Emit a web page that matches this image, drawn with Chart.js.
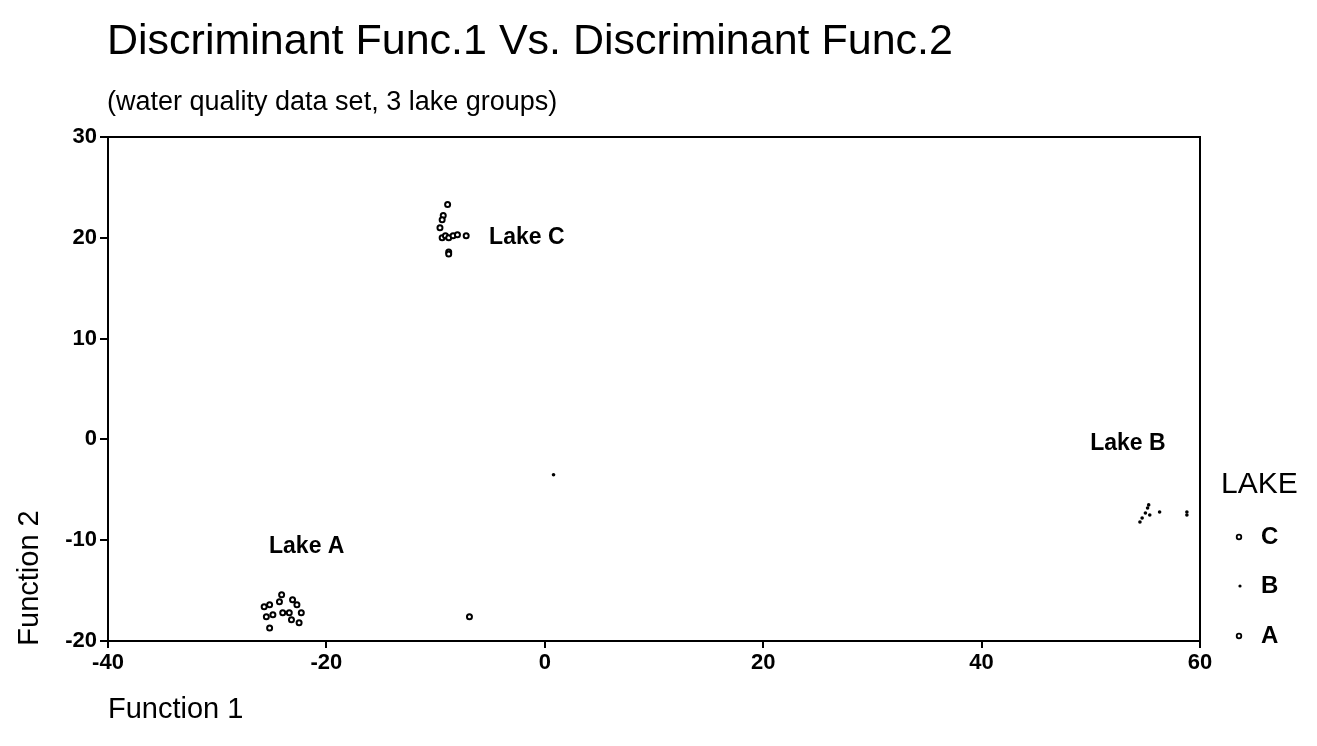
<!DOCTYPE html>
<html>
<head>
<meta charset="utf-8">
<script src="https://cdn.jsdelivr.net/npm/chart.js@4"></script>
<style>
  html, body { margin: 0; padding: 0; background: #fff; }
  #wrap { width: 1317px; height: 746px; position: relative; }
</style>
</head>
<body>
<div id="wrap"><canvas id="c"></canvas></div>
<script>
// discriminant scores
const lakeC_x = [-8.9, -9.3, -9.4, -9.6, -9.4, -9.1, -8.8, -8.4, -8.0, -7.2, -8.8, -8.8]
const lakeC_y = [23.3, 22.2, 21.8, 21.0, 20.0, 20.2, 20.0, 20.2, 20.3, 20.2, 18.6, 18.4]
const lakeB_x = [55.3, 55.2, 55.0, 55.4, 54.7, 54.5, 56.3, 58.8, 58.8, 0.8]
const lakeB_y = [-6.5, -6.8, -7.3, -7.5, -7.8, -8.2, -7.2, -7.2, -7.5, -3.5]
const lakeA_x = [-24.1, -24.3, -25.2, -25.7, -23.1, -22.7, -23.4, -24.0, -24.9, -25.5, -22.3, -22.5, -25.2, -23.2, -6.9]
const lakeA_y = [-15.4, -16.1, -16.4, -16.6, -15.9, -16.4, -17.2, -17.2, -17.4, -17.6, -17.2, -18.2, -18.7, -17.9, -17.6]
const groupLabels = ['Lake C', 'Lake B', 'Lake A']
const labelX = [-5.1, 53.4, -21.8]
const labelY = [20.0, -0.4, -10.6]
const xTicks = [-40, -20, 0, 20, 40, 60]
const yTicks = [-20, -10, 0, 10, 20, 30]

const pts = (xs, ys) => xs.map((x, i) => ({ x, y: ys[i] }))
const FONT = '"Liberation Sans", Arial, Helvetica, sans-serif'

const decor = {
  id: 'decor',
  afterDraw(chart) {
    const { ctx, chartArea: a, scales } = chart
    ctx.save()
    ctx.strokeStyle = '#000'
    ctx.lineWidth = 2
    ctx.strokeRect(a.left, a.top, a.right - a.left, a.bottom - a.top)
    ctx.fillStyle = '#000'
    ctx.textBaseline = 'alphabetic'
    ctx.textAlign = 'left'
    ctx.font = '43px ' + FONT
    ctx.fillText('Discriminant Func.1 Vs. Discriminant Func.2', 107, 54)
    ctx.font = '27px ' + FONT
    ctx.fillText('(water quality data set, 3 lake groups)', 107, 110)
    ctx.font = '29px ' + FONT
    ctx.fillText('Function 1', 108, 718)
    ctx.save()
    ctx.translate(38, 578)
    ctx.rotate(-Math.PI / 2)
    ctx.textAlign = 'center'
    ctx.fillText('Function 2', 0, 0)
    ctx.restore()
    // group labels
    ctx.font = 'bold 23px ' + FONT
    groupLabels.forEach((t, i) => {
      const px = scales.x.getPixelForValue(labelX[i])
      const py = scales.y.getPixelForValue(labelY[i])
      ctx.textAlign = i === 0 ? 'left' : 'center'
      ctx.textBaseline = 'middle'
      ctx.fillText(t, px, py)
    })
    // legend
    ctx.textAlign = 'left'
    ctx.textBaseline = 'middle'
    ctx.font = '30px ' + FONT
    ctx.fillText('LAKE', 1221, 485)
    ctx.font = 'bold 24px ' + FONT
    const ly = [537, 586, 636]
    groupLabels.forEach((t, i) => {
      ctx.beginPath()
      if (i === 1) {
        ctx.arc(1240, ly[i], 1.6, 0, Math.PI * 2)
        ctx.fill()
      } else {
        ctx.lineWidth = 1.8
        ctx.arc(1239, ly[i], 2.3, 0, Math.PI * 2)
        ctx.stroke()
      }
      ctx.fillText(t.slice(-1), 1261, ly[i])
    })
    ctx.restore()
  }
}

new Chart(document.getElementById('c'), {
  type: 'scatter',
  data: {
    datasets: [
      { label: 'C', data: pts(lakeC_x, lakeC_y), pointStyle: 'circle', pointRadius: 2.5, pointBorderWidth: 2, borderColor: '#000', backgroundColor: '#fff' },
      { label: 'B', data: pts(lakeB_x, lakeB_y), pointStyle: 'circle', pointRadius: 1.8, pointBorderWidth: 0, borderColor: '#000', backgroundColor: '#000' },
      { label: 'A', data: pts(lakeA_x, lakeA_y), pointStyle: 'circle', pointRadius: 2.5, pointBorderWidth: 2, borderColor: '#000', backgroundColor: '#fff' }
    ]
  },
  options: {
    responsive: true,
    maintainAspectRatio: false,
    animation: false,
    layout: { padding: { left: 0, top: 137, right: 117, bottom: 0 } },
    plugins: { legend: { display: false }, tooltip: { enabled: false } },
    scales: {
      x: {
        type: 'linear', min: -40, max: 60,
        afterFit: s => { s.height = 105 },
        afterBuildTicks: s => { s.ticks = xTicks.map(v => ({ value: v })) },
        border: { display: true, color: '#000', width: 2 },
        grid: { drawOnChartArea: false, color: '#000', tickLength: 7, lineWidth: 2 },
        ticks: { color: '#000', font: { family: FONT, size: 22, weight: 'bold' }, padding: 2, maxRotation: 0 }
      },
      y: {
        type: 'linear', min: -20, max: 30,
        afterFit: s => { s.width = 108 },
        afterBuildTicks: s => { s.ticks = yTicks.map(v => ({ value: v })) },
        border: { display: true, color: '#000', width: 2 },
        grid: { drawOnChartArea: false, color: '#000', tickLength: 8, lineWidth: 2 },
        ticks: { color: '#000', font: { family: FONT, size: 22, weight: 'bold' }, padding: 3 }
      }
    }
  },
  plugins: [decor]
})
</script>
</body>
</html>
